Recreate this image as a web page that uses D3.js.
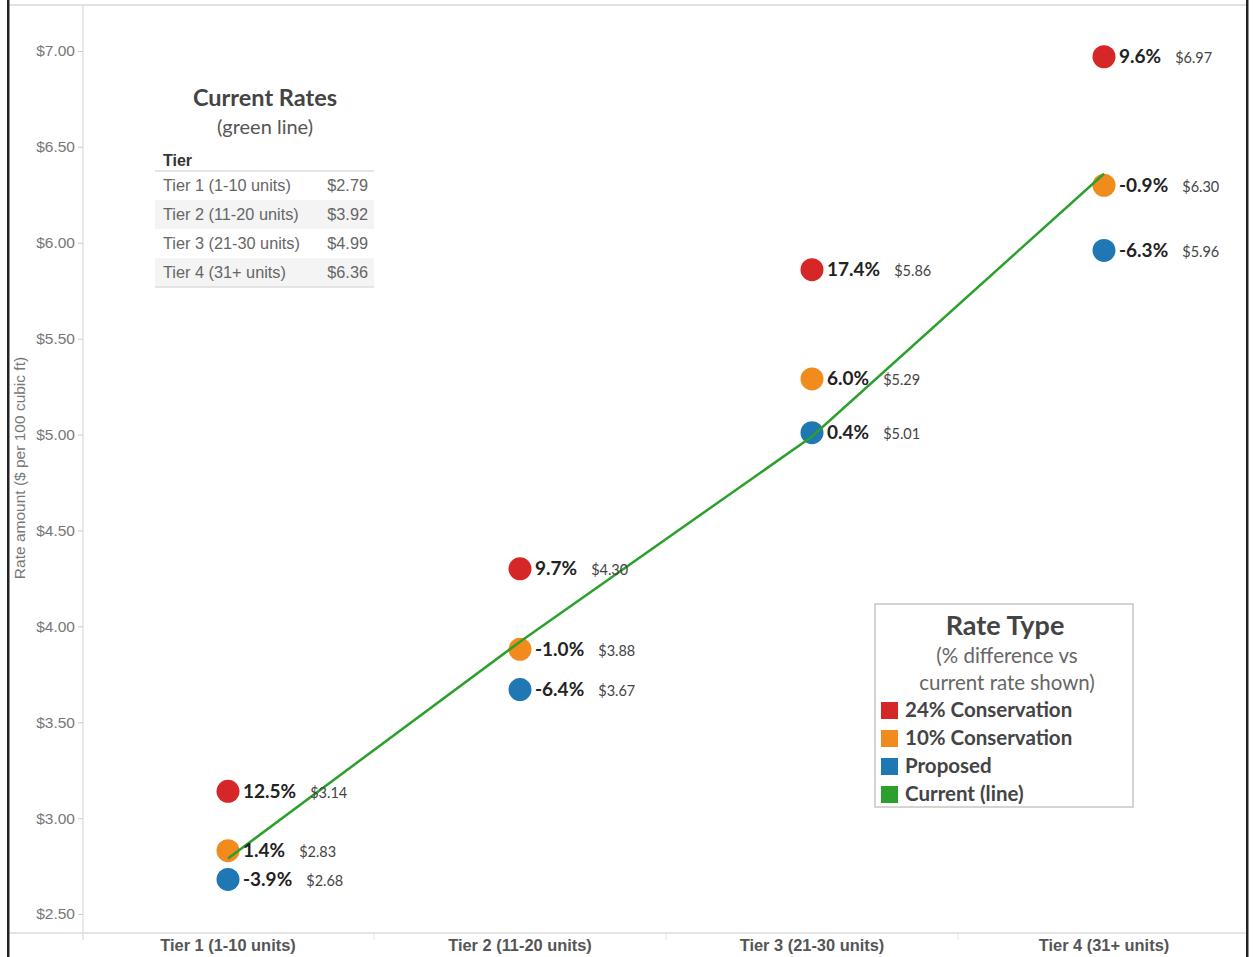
<!DOCTYPE html>
<html>
<head>
<meta charset="utf-8">
<script src="https://cdn.jsdelivr.net/npm/d3@7"></script>
<style>
  body { margin: 0; background: #fff; }
  svg { display: block; }
</style>
</head>
<body>
<svg id="chart"></svg>
<script>
const tiers = ['Tier 1 (1-10 units)', 'Tier 2 (11-20 units)', 'Tier 3 (21-30 units)', 'Tier 4 (31+ units)'];
const currentRates = [2.79, 3.92, 4.99, 6.36];
const cons24 = [3.14, 4.30, 5.86, 6.97];
const cons24Pct = ['12.5%', '9.7%', '17.4%', '9.6%'];
const cons10 = [2.83, 3.88, 5.29, 6.30];
const cons10Pct = ['1.4%', '-1.0%', '6.0%', '-0.9%'];
const proposed = [2.68, 3.67, 5.01, 5.96];
const proposedPct = ['-3.9%', '-6.4%', '0.4%', '-6.3%'];
const yTicks = [2.5, 3, 3.5, 4, 4.5, 5, 5.5, 6, 6.5, 7];
const legendLabels = ['24% Conservation', '10% Conservation', 'Proposed', 'Current (line)'];

const width = 1257, height = 957;
const red = '#d62728', orange = '#f28b1e', blue = '#1f77b4', green = '#2ca02c';
const labelFont = 'Lato, "Open Sans", sans-serif';
const axisFont = '"Liberation Sans", Arial, sans-serif';

const svg = d3.select('#chart')
    .attr('width', width)
    .attr('height', height);

const x = d3.scaleBand()
    .domain(tiers)
    .range([82, 1250]);
const y = d3.scaleLinear()
    .domain([2.5, 7])
    .range([914, 51]);

// frame
svg.append('line').attr('x1', 8).attr('x2', 1247).attr('y1', 5).attr('y2', 5)
    .attr('stroke', '#e2e2e2').attr('stroke-width', 2);
svg.append('line').attr('x1', 83).attr('x2', 83).attr('y1', 5).attr('y2', 940)
    .attr('stroke', '#e2e2e2').attr('stroke-width', 1.5);
svg.append('line').attr('x1', 8).attr('x2', 1247).attr('y1', 933).attr('y2', 933)
    .attr('stroke', '#dcdcdc').attr('stroke-width', 1.5);
svg.selectAll('.sep').data(tiers.slice(1))
    .enter().append('line')
    .attr('x1', d => x(d)).attr('x2', d => x(d))
    .attr('y1', 933).attr('y2', 940)
    .attr('stroke', '#e2e2e2');
svg.append('rect').attr('x', 7).attr('y', 0).attr('width', 2.5).attr('height', height).attr('fill', '#222');
svg.append('rect').attr('x', 1246).attr('y', 0).attr('width', 2.5).attr('height', height).attr('fill', '#222');

// y axis
const yAxis = d3.axisLeft(y)
    .tickValues(yTicks)
    .tickFormat(d3.format('$.2f'))
    .tickSize(5)
    .tickPadding(3);
const gy = svg.append('g')
    .attr('transform', 'translate(83,0)')
    .call(yAxis);
gy.select('.domain').remove();
gy.selectAll('line').attr('stroke', '#ccc');
gy.selectAll('text')
    .attr('fill', '#777')
    .style('font-family', axisFont)
    .style('font-size', '15.5px');

svg.append('text')
    .attr('transform', 'translate(25,468) rotate(-90)')
    .attr('text-anchor', 'middle')
    .attr('fill', '#777')
    .style('font-family', axisFont)
    .style('font-size', '15.5px')
    .text('Rate amount ($ per 100 cubic ft)');

// x axis
const xAxis = d3.axisBottom(x).tickSize(0).tickPadding(6);
const gx = svg.append('g')
    .attr('transform', 'translate(0,933)')
    .call(xAxis);
gx.select('.domain').remove();
gx.selectAll('text')
    .attr('fill', '#555')
    .style('font-family', axisFont)
    .style('font-size', '16.4px')
    .style('font-weight', 'bold');

// series points
const series = [
    {vals: cons24, pct: cons24Pct, color: red},
    {vals: cons10, pct: cons10Pct, color: orange},
    {vals: proposed, pct: proposedPct, color: blue}
];

series.forEach(s => {
    const pts = tiers.map((t, i) => ({tier: t, v: s.vals[i], pct: s.pct[i]}));
    svg.append('g').selectAll('circle').data(pts)
        .enter().append('circle')
        .attr('cx', d => x(d.tier) + x.bandwidth() / 2)
        .attr('cy', d => y(d.v))
        .attr('r', 11.5)
        .attr('fill', s.color);
});

// current line
const line = d3.line()
    .x((d, i) => x(tiers[i]) + x.bandwidth() / 2)
    .y(d => y(d));
svg.append('path')
    .datum(currentRates)
    .attr('d', line)
    .attr('fill', 'none')
    .attr('stroke', green)
    .attr('stroke-width', 2.5);

// labels
series.forEach(s => {
    tiers.forEach((t, i) => {
        const cx = x(t) + x.bandwidth() / 2;
        const cy = y(s.vals[i]);
        const p = svg.append('text')
            .attr('x', cx + 15)
            .attr('y', cy + 6.5)
            .attr('fill', '#222')
            .style('font-family', labelFont)
            .style('font-size', '19px')
            .style('font-weight', 'bold')
            .text(s.pct[i]);
        const w = p.node().getComputedTextLength();
        svg.append('text')
            .attr('x', cx + 15 + w + 14)
            .attr('y', cy + 6.5)
            .attr('fill', '#444')
            .style('font-family', labelFont)
            .style('font-size', '14.5px')
            .text(d3.format('$.2f')(s.vals[i]));
    });
});

// current rates table
const tbl = svg.append('g');
tbl.append('text')
    .attr('x', 265).attr('y', 106)
    .attr('text-anchor', 'middle')
    .attr('fill', '#444')
    .style('font-family', labelFont)
    .style('font-size', '23.5px')
    .style('font-weight', 'bold')
    .text('Current Rates');
tbl.append('text')
    .attr('x', 265).attr('y', 134)
    .attr('text-anchor', 'middle')
    .attr('fill', '#555')
    .style('font-family', labelFont)
    .style('font-size', '20px')
    .text('(green line)');
tbl.append('text')
    .attr('x', 163).attr('y', 166)
    .attr('fill', '#333')
    .style('font-family', axisFont)
    .style('font-size', '16px')
    .style('font-weight', 'bold')
    .text('Tier');
const rowH = 29;
tiers.forEach((t, i) => {
    const top = 171 + i * rowH;
    if (i % 2 === 1) {
        tbl.append('rect')
            .attr('x', 155).attr('y', top).attr('width', 219).attr('height', rowH)
            .attr('fill', '#f4f4f4');
    }
    tbl.append('text')
        .attr('x', 163).attr('y', top + 20)
        .attr('fill', '#666')
        .style('font-family', axisFont)
        .style('font-size', '16.3px')
        .text(t);
    tbl.append('text')
        .attr('x', 368).attr('y', top + 20)
        .attr('text-anchor', 'end')
        .attr('fill', '#666')
        .style('font-family', axisFont)
        .style('font-size', '16.3px')
        .text(d3.format('$.2f')(currentRates[i]));
});
tbl.append('line').attr('x1', 155).attr('x2', 374).attr('y1', 171).attr('y2', 171)
    .attr('stroke', '#ddd').attr('stroke-width', 1.5);
tbl.append('line').attr('x1', 155).attr('x2', 374).attr('y1', 287).attr('y2', 287)
    .attr('stroke', '#ddd').attr('stroke-width', 1.5);

// legend
const lg = svg.append('g');
lg.append('rect')
    .attr('x', 875).attr('y', 604).attr('width', 258).attr('height', 203)
    .attr('fill', '#fff').attr('stroke', '#c8c8c0').attr('stroke-width', 1.5);
lg.append('text')
    .attr('x', 1005).attr('y', 635)
    .attr('text-anchor', 'middle')
    .attr('fill', '#444')
    .style('font-family', labelFont)
    .style('font-size', '27px')
    .style('font-weight', 'bold')
    .text('Rate Type');
lg.append('text')
    .attr('x', 1007).attr('y', 663)
    .attr('text-anchor', 'middle')
    .attr('fill', '#666')
    .style('font-family', labelFont)
    .style('font-size', '20.5px')
    .text('(% difference vs');
lg.append('text')
    .attr('x', 1007).attr('y', 690)
    .attr('text-anchor', 'middle')
    .attr('fill', '#666')
    .style('font-family', labelFont)
    .style('font-size', '20.5px')
    .text('current rate shown)');
const legendColors = [red, orange, blue, green];
legendLabels.forEach((l, i) => {
    const cy = 710 + i * 28;
    lg.append('rect')
        .attr('x', 881).attr('y', cy - 8).attr('width', 17).attr('height', 17)
        .attr('fill', legendColors[i]);
    lg.append('text')
        .attr('x', 905).attr('y', cy + 7)
        .attr('fill', '#444')
        .style('font-family', labelFont)
        .style('font-size', '20.5px')
        .style('font-weight', 'bold')
        .text(l);
});
</script>
</body>
</html>
